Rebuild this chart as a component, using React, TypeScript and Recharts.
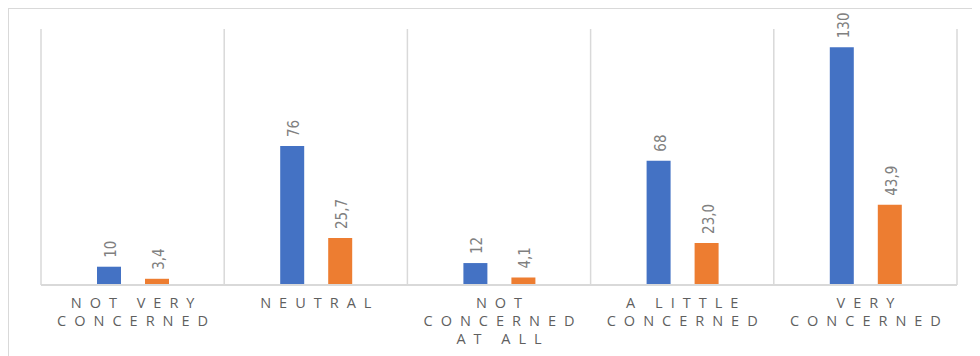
import { Bar, BarChart, CartesianGrid, LabelList, XAxis, YAxis } from "recharts";

// answer categories, in display order
const categories = [
  "NOT VERY CONCERNED",
  "NEUTRAL",
  "NOT CONCERNED AT ALL",
  "A LITTLE CONCERNED",
  "VERY CONCERNED",
];
// how each category label wraps under the axis
const tickLines = [
  ["NOT VERY", "CONCERNED"],
  ["NEUTRAL"],
  ["NOT", "CONCERNED", "AT ALL"],
  ["A LITTLE", "CONCERNED"],
  ["VERY", "CONCERNED"],
];
const counts = [10, 76, 12, 68, 130];
const percents = [3.4, 25.7, 4.1, 23.0, 43.9];

const data = categories.map((name, i) => ({
  name,
  count: counts[i],
  percent: percents[i],
}));

const W = 972;
const H = 347;
const LABEL_COLOR = "#808080";
const TICK_SPACING = 8;

function CategoryTick(props: any) {
  const { x, y, payload, index } = props;
  const lines = tickLines[index] ?? [String(payload.value)];
  return (
    <g transform={`translate(${x},${y})`}>
      {lines.map((line: string, i: number) => (
        <text
          key={i}
          x={TICK_SPACING / 2}
          y={15 + i * 18}
          textAnchor="middle"
          fill="#5f5f5f"
          fontSize={14.5}
          fontFamily="'Open Sans', 'DejaVu Sans', sans-serif"
          style={{ letterSpacing: TICK_SPACING }}
        >
          {line}
        </text>
      ))}
    </g>
  );
}

// rotated value label sitting above each bar
function makeValueLabel(fmt: (v: number) => string) {
  return (props: any) => {
    const { x, y, width, value } = props;
    const cx = Number(x) + Number(width) / 2 + 2;
    const cy = Number(y) - 9;
    return (
      <text
        x={cx}
        y={cy}
        transform={`rotate(-90, ${cx}, ${cy})`}
        textAnchor="start"
        dominantBaseline="central"
        fill={LABEL_COLOR}
        fontSize={15}
        fontFamily="'Liberation Sans Narrow', 'DejaVu Sans Condensed', sans-serif"
        style={{ fontStretch: "condensed" }}
      >
        {fmt(Number(value))}
      </text>
    );
  };
}

const fmtCount = (v: number) => String(v);
const fmtPercent = (v: number) => v.toFixed(1).replace(".", ",");

export default function App() {
  return (
    <div
      style={{
        width: W,
        height: H,
        borderTop: "1px solid #d9d9d9",
        borderLeft: "1px solid #d9d9d9",
        background: "#fff",
      }}
    >
      <BarChart
        width={W - 1}
        height={H}
        data={data}
        margin={{ top: 20, right: 23, bottom: 11, left: 32 }}
        barSize={24}
        barGap={24}
      >
        <CartesianGrid
          horizontal={false}
          stroke="#d9d9d9"
          strokeWidth={1.5}
          verticalCoordinatesGenerator={({ offset }: any) =>
            categories
              .map((_, i) => offset.left + (i * offset.width) / categories.length)
              .concat(offset.left + offset.width)
          }
        />
        <XAxis
          dataKey="name"
          height={60}
          axisLine={{ stroke: "#d9d9d9", strokeWidth: 2 }}
          tickLine={false}
          interval={0}
          tick={<CategoryTick />}
        />
        <YAxis hide domain={[0, 140]} />
        <Bar dataKey="count" fill="#4472C4" isAnimationActive={false}>
          <LabelList dataKey="count" content={makeValueLabel(fmtCount)} />
        </Bar>
        <Bar dataKey="percent" fill="#ED7D31" isAnimationActive={false}>
          <LabelList dataKey="percent" content={makeValueLabel(fmtPercent)} />
        </Bar>
      </BarChart>
    </div>
  );
}
